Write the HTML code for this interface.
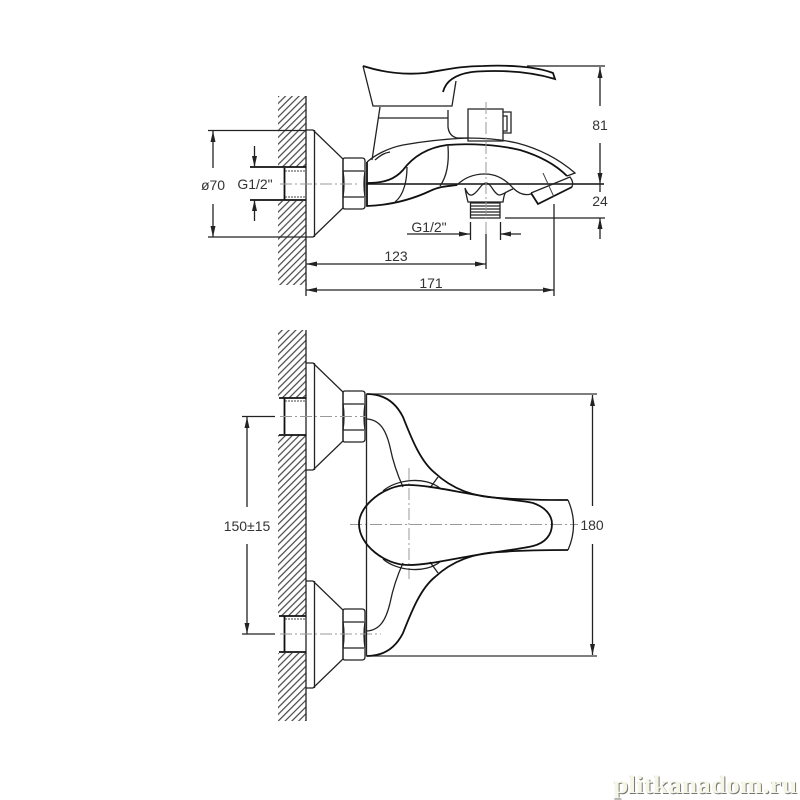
<!DOCTYPE html>
<html><head><meta charset="utf-8"><style>
html,body{margin:0;padding:0;background:#fff}
svg{display:block;filter:blur(.35px)}
text{font-family:"Liberation Sans",sans-serif;fill:#333;font-size:14px;text-anchor:middle}
.l{fill:none;stroke:#222;stroke-width:1.3}
.b{fill:none;stroke:#111;stroke-width:1.8}
.t{fill:none;stroke:#444;stroke-width:1}
.c{fill:none;stroke:#999;stroke-width:1;stroke-dasharray:12 3 2 3}
</style></head><body>
<svg width="800" height="800" viewBox="0 0 800 800" xmlns="http://www.w3.org/2000/svg">
<defs>
<pattern id="h" patternUnits="userSpaceOnUse" width="4.8" height="4.8" patternTransform="rotate(45)">
<line x1="1" y1="0" x2="1" y2="4.8" stroke="#444" stroke-width="1.2"/>
</pattern>
<marker id="ar" markerWidth="12" markerHeight="6" refX="11" refY="3" orient="auto-start-reverse" markerUnits="userSpaceOnUse"><path d="M0 .5L11 3L0 5.5z" fill="#222"/></marker>
<g id="esc">
<path class="l" d="M306 0H313L343 29V78L313 107H306"/>
<path class="l" d="M314.500 0V107"/>
<path class="l" d="M343 30Q343 28 345 28H362Q365 28 365 31V76Q365 79 362 79H345Q343 79 343 77Z"/>
<path class="l" d="M343 41H364M343 67H364"/>
<path class="l" d="M343 41Q345 54 343 67M365 41Q363 54 365 67"/>
</g>
</defs>

<!-- top view wall -->
<rect x="278" y="96" width="28" height="71" fill="url(#h)"/>
<rect x="278" y="201" width="28" height="84" fill="url(#h)"/>
<path class="l" d="M306 96V285"/>
<path class="b" d="M250 167H306M250 200H306M284.500 168V200"/>
<path class="t" d="M285 171H306M285 197H306" stroke-dasharray="2 1"/>

<use href="#esc" y="130"/>

<line class="c" x1="280" y1="184" x2="360" y2="184"/>
<path d="M366 184H604" stroke="#333" stroke-width="1.7" fill="none"/>

<!-- top view handle -->
<path class="l" d="M363 66L373 106H452L456 81"/>
<path class="b" d="M363 66C385 73 405 75 425 73C445 70 460 66 483 66C505 65 535 66 553 73L555 79C535 73 515 71 495 71C475 71 462 72 452 79C446 83 444 88 443 92"/>
<path class="l" d="M380 107L372 160M378 118H448M448 110V127Q449 136 457 138H468"/>
<path class="l" d="M468 109H503V141H468ZM503 112H511V133H503M503 116H507V131H503"/>

<!-- spout -->
<path class="l" d="M367 162C375 155 388 148 403 145C425 141 445 139 467 138C485 138 500 139 517 143C540 149 560 160 575 173L567 176"/>
<path class="b" d="M367 183C385 183 395 179 403 170C412 158 425 148 447 145C470 143 500 145 520 150C540 156 556 165 567 176"/>
<path class="l" d="M375 160C382 154 385 153 390 152"/>
<path class="b" d="M367 162V206C395 205 415 198 430 191C440 186 450 186 457 185"/>
<path class="l" d="M448 146C449 160 448 175 440 186M407 167C407 180 404 195 395 202"/>

<!-- shower head -->
<path class="l" d="M531 193L570 177Q574 182 572 187"/>
<path class="b" d="M531 193L538 204L572 187"/>
<path class="t" d="M543 173L554 197" stroke="#999"/>

<!-- mount -->
<path class="l" d="M457 185C465 177 475 174 485 174C497 174 506 180 513 188C518 193 524 196 531 194"/>
<path class="l" d="M465 188Q466 194 468 202H503Q504 194 506 192M465 188Q468 196 472 195C478 193 481 183 486 183C491 183 494 194 499 195C503 195 507 191 513 189"/>
<path d="M470.500 203H500V218H470.500Z" class="l"/>
<path d="M470 206H500M470 209H500M470 212H500M470 215H500" stroke="#222" stroke-width="1.3" fill="none"/>

<!-- vertical centerlines -->
<line class="c" x1="486" y1="102" x2="486" y2="234"/>

<!-- top view dims -->
<path class="l" d="M208 130.500H306M208 237H306"/>
<line class="l" x1="213" y1="168" x2="213" y2="131" marker-end="url(#ar)"/>
<line class="l" x1="213" y1="204" x2="213" y2="237" marker-end="url(#ar)"/>
<line class="l" x1="254.500" y1="146" x2="254.500" y2="167" marker-end="url(#ar)"/>
<line class="l" x1="254.500" y1="221" x2="254.500" y2="200" marker-end="url(#ar)"/>
<text x="213" y="190">ø70</text>
<text x="255" y="189">G1/2"</text>

<path class="l" d="M527 66H605M505 218H605"/>
<line class="l" x1="600" y1="106" x2="600" y2="67" marker-end="url(#ar)"/>
<line class="l" x1="600" y1="143" x2="600" y2="184" marker-end="url(#ar)"/>
<line class="l" x1="600" y1="239" x2="600" y2="218" marker-end="url(#ar)"/>
<line class="l" x1="600" y1="184" x2="600" y2="192"/>
<text x="600" y="130">81</text>
<text x="600" y="206">24</text>

<path class="l" d="M470.500 222V240M500.500 222V240"/>
<line class="l" x1="407" y1="234" x2="470" y2="234" marker-end="url(#ar)"/>
<line class="l" x1="521" y1="234" x2="500" y2="234" marker-end="url(#ar)"/>
<text x="429" y="232">G1/2"</text>

<line class="l" x1="486" y1="234" x2="486" y2="269"/>
<line class="l" x1="396" y1="264" x2="306" y2="264" marker-end="url(#ar)"/>
<line class="l" x1="396" y1="264" x2="486" y2="264" marker-end="url(#ar)"/>
<text x="396" y="261">123</text>
<path class="l" d="M554 204V296M306 284V296"/>
<line class="l" x1="430" y1="290" x2="306" y2="290" marker-end="url(#ar)"/>
<line class="l" x1="430" y1="290" x2="554" y2="290" marker-end="url(#ar)"/>
<text x="431" y="288">171</text>

<!-- bottom view wall -->
<rect x="278" y="330" width="28" height="68" fill="url(#h)"/>
<rect x="278" y="435" width="28" height="181" fill="url(#h)"/>
<rect x="278" y="653" width="28" height="68" fill="url(#h)"/>
<path class="l" d="M306 330V721"/>
<path class="b" d="M279 398H306M279 435H306M284.500 398V434M279 616H306M279 652H306M284.500 616V652"/>
<path class="t" d="M285 401H306M285 619H306" stroke-dasharray="2 1"/>

<use href="#esc" y="363"/>
<use href="#esc" y="581"/>

<line class="c" x1="280" y1="416.500" x2="366" y2="416.500"/>
<line class="c" x1="280" y1="634" x2="381" y2="634"/>
<line class="c" x1="350" y1="524.500" x2="578" y2="524.500"/>
<line class="c" x1="409" y1="468" x2="409" y2="579"/>

<path class="l" d="M366.500 394V656"/>
<path d="M366 394H597M366 656H597" stroke="#333" stroke-width="1.3" fill="none"/>

<!-- body -->
<path class="b" d="M367 394C385 394 396 403 403 417C411 437 420 461 435 473C450 487 470 497 500 498C525 500 550 500 568 500"/>
<path class="b" d="M367 656C385 656 396 647 403 633C411 613 420 589 435 577C450 563 470 553 500 552C525 550 550 550 568 550"/>
<path class="l" d="M568 500Q579 525 568 550"/>
<path class="l" d="M367 419C380 420 386 430 390 447C393 462 398 476 403 487"/>
<path class="l" d="M367 631C380 630 386 620 390 603C393 588 398 574 403 563"/>
<path class="l" d="M383 491C395 480 425 475 441 489M383 559C395 570 425 575 441 561"/>
<path class="l" d="M438 477L430 488M438 573L430 562"/>
<!-- handle -->
<path class="b" d="M359 524C359 505 385 485 408 485C430 485 460 493 490 497C510 500 525 501 533 503C545 507 552 515 552 524C552 535 545 543 533 546C525 548 510 550 490 553C460 557 430 565 408 565C385 565 359 545 359 524Z"/>

<!-- bottom dims -->
<path class="l" d="M242 416.500H275M242 634H275"/>
<line class="l" x1="247" y1="507" x2="247" y2="417" marker-end="url(#ar)"/>
<line class="l" x1="247" y1="544" x2="247" y2="634" marker-end="url(#ar)"/>
<text x="247" y="531">150±15</text>
<line class="l" x1="592.500" y1="506" x2="592.500" y2="395" marker-end="url(#ar)"/>
<line class="l" x1="592.500" y1="544" x2="592.500" y2="655" marker-end="url(#ar)"/>
<text x="592" y="530">180</text>

<!-- watermark -->
<text x="706" y="794" textLength="184" lengthAdjust="spacingAndGlyphs" style="font-family:'Liberation Serif',serif;font-size:25px;font-weight:bold;fill:#777">plitkanadom.ru</text>
<text x="705" y="793" textLength="184" lengthAdjust="spacingAndGlyphs" style="font-family:'Liberation Serif',serif;font-size:25px;font-weight:bold;fill:#f6f6e6">plitkanadom.ru</text>
</svg>
</body></html>
